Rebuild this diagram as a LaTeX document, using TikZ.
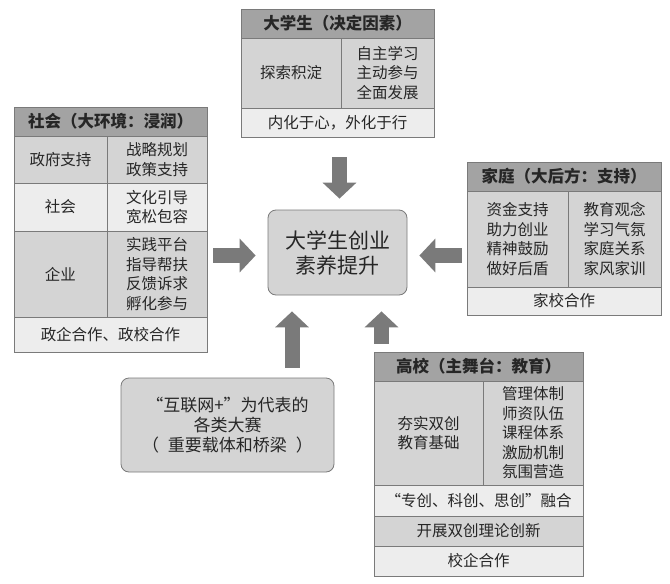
\documentclass[tikz,border=0pt]{standalone}
\usepackage{fontspec}
\setmainfont{Noto Sans CJK SC}
\usetikzlibrary{arrows.meta}
\definecolor{hdr}{HTML}{A3A3A3}
\definecolor{mid}{HTML}{D4D4D4}
\definecolor{lite}{HTML}{EDEDED}
\definecolor{edge}{HTML}{7A7A7A}
\definecolor{arr}{HTML}{7A7A7A}
\definecolor{ink}{HTML}{262626}
\begin{document}
\begin{tikzpicture}[x=1pt,y=-1pt,
  cell/.style={draw=edge, line width=0.8pt, inner sep=0pt, align=center, text=ink,
    font=\fontsize{15.5}{19.5}\selectfont},
  hcell/.style={cell, fill=hdr, font=\fontsize{16.5}{20}\selectfont\bfseries},
  mcell/.style={cell, fill=mid},
  lcell/.style={cell, fill=lite},
  sz/.style 2 args={minimum width=#1pt, minimum height=#2pt},
  rbox/.style={draw=edge, line width=0.8pt, fill=mid, rounded corners=8pt, align=center, text=ink, inner sep=0pt},
  barrow/.style={draw=arr, line width=15pt, -{Triangle[width=33pt, length=16pt]}}
]
\useasboundingbox[fill=white] (0,0) rectangle (670,584);

% top box
\node[hcell, sz={193}{29}] (th) at (337.5,23.5) {大学生（决定因素）};
\node[mcell, sz={100}{70}] (tl) at (291,73) {探索积淀};
\node[mcell, sz={93}{70}] (tr) at (387.5,73) {自主学习\\主动参与\\全面发展};
\node[lcell, sz={193}{29}] (tb) at (337.5,122.5) {内化于心，外化于行};

% left box
\node[hcell, sz={193}{29}] (sh) at (110.5,121.5) {社会（大环境：浸润）};
\node[mcell, sz={93}{47}] (s1l) at (60.5,159.5) {政府支持};
\node[mcell, sz={100}{47}] (s1r) at (157,159.5) {战略规划\\政策支持};
\node[lcell, sz={93}{48}] (s2l) at (60.5,207) {社会};
\node[lcell, sz={100}{48}] (s2r) at (157,207) {文化引导\\宽松包容};
\node[mcell, sz={93}{86}] (s3l) at (60.5,274) {企业};
\node[mcell, sz={100}{86}] (s3r) at (157,274) {实践平台\\指导帮扶\\反馈诉求\\孵化参与};
\node[lcell, sz={193}{35}] (s4) at (110.5,334.5) {政企合作、政校合作};

% right box
\node[hcell, sz={194}{29}] (fh) at (564,176.5) {家庭（大后方：支持）};
\node[mcell, sz={101}{96}] (fml) at (517.5,239) {资金支持\\助力创业\\精神鼓励\\做好后盾};
\node[mcell, sz={93}{96}] (fmr) at (614.5,239) {教育观念\\学习气氛\\家庭关系\\家风家训};
\node[lcell, sz={194}{28}] (fb) at (564,301) {家校合作};

% university box
\node[hcell, sz={209}{29}] (hh) at (478.5,366.5) {高校（主舞台：教育）};
\node[mcell, sz={109}{104}] (hml) at (428.5,433) {夯实双创\\教育基础};
\node[mcell, sz={100}{104}] (hmr) at (533,433) {管理体制\\师资队伍\\课程体系\\激励机制\\氛围营造};
\node[lcell, sz={209}{31}] (h1) at (478.5,500.5) {“专创、科创、思创”融合};
\node[mcell, sz={209}{30}] (h2) at (478.5,531) {开展双创理论创新};
\node[lcell, sz={209}{30}] (h3) at (478.5,561) {校企合作};

% centre
\node[rbox, sz={139}{85}, font=\fontsize{21}{25}\selectfont] (cb) at (337.5,252.5) {大学生创业\\素养提升};

% competitions
\node[rbox, sz={213}{94}, font=\fontsize{17}{20}\selectfont] (rb) at (227.5,425) {“互联网+”为代表的\\各类大赛\\（\hspace{9pt}重要载体和桥梁\hspace{9pt}）};

% arrows
\coordinate (aT) at ([xshift=2pt]cb.north);
\coordinate (aL) at ([yshift=-3pt]cb.west);
\coordinate (aR) at ([yshift=-3pt]cb.east);
\coordinate (aB1) at ([xshift=-45.5pt]cb.south);
\coordinate (aB2) at ([xshift=44pt]cb.south);
\draw[barrow, shorten <=20pt, shorten >=11pt] (aT |- tb.south) -- (aT);
\draw[barrow, shorten <=6pt, shorten >=12pt] (aL -| s3r.east) -- (aL);
\draw[barrow, shorten <=5pt, shorten >=12pt] (aR -| fml.west) -- (aR);
\draw[barrow, shorten <=10pt, shorten >=16pt] (aB1 |- rb.north) -- (aB1);
\draw[barrow, shorten <=8pt, shorten >=16pt] (aB2 |- hh.north) -- (aB2);
\end{tikzpicture}
\end{document}
